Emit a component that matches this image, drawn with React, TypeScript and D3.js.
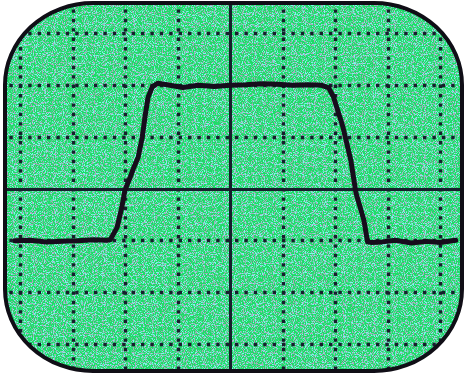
import React, { useMemo } from 'react';
import { line, scaleLinear, range, curveLinear } from 'd3';

// trace: time in divisions, level in divisions
const traceTime = [
	-0.1, 0.2, 0.5, 0.8, 1.1, 1.4, 1.65, 1.72, 1.85, 1.94, 2.0, 2.1, 2.15, 2.25, 2.33, 2.39, 2.44, 2.52, 2.62, 2.8,
	3.1, 3.4, 3.7, 4.0, 4.3, 4.6, 4.9, 5.2, 5.5, 5.75, 5.88, 5.97, 6.15, 6.3, 6.4, 6.55, 6.62, 6.68, 6.9, 7.15,
	7.45, 7.75, 8.0, 8.3,
];
const traceLevel = [
	-1.01, -1.0, -1.03, -1.02, -1.01, -0.99, -1.0, -0.99, -0.75, -0.36, -0.03, 0.22, 0.36, 0.6, 1.0, 1.45, 1.76, 1.96,
	2.03, 2.0, 1.95, 1.99, 1.97, 1.99, 2.0, 2.02, 2.01, 1.99, 2.0, 1.99, 1.94, 1.77, 1.19, 0.55, -0.09, -0.61, -1.03,
	-1.04, -1.03, -1.0, -1.05, -1.02, -1.04, -1.0,
];

const timeDivs = range(0, 9); // 0..8
const levelDivs = range(-3, 4); // -3..3

const W = 467;
const H = 376;

export default function App() {
	const x = scaleLinear().domain([0, 8]).range([20, 440]);
	const y = scaleLinear().domain([3, -3]).range([33, 344]);

	const tracePath = useMemo(() => {
		const pts = traceTime.map((t, i) => ({ t, v: traceLevel[i] }));
		return line<{ t: number; v: number }>()
			.x((d) => x(d.t))
			.y((d) => y(d.v))
			.curve(curveLinear)(pts);
	}, []);

	const screen = { x: 5, y: 3, w: 457, h: 368, rx: 88, ry: 82 };
	const gridColor = '#16202c';

	return (
		<svg
			width={W}
			height={H}
			viewBox={`0 0 ${W} ${H}`}
			style={{ position: 'absolute', left: 0, top: 0, display: 'block', background: '#fff' }}
		>
			<defs>
				<clipPath id="scr">
					<rect x={screen.x} y={screen.y} width={screen.w} height={screen.h} rx={screen.rx} ry={screen.ry} />
				</clipPath>
				<filter id="speckle" x="0" y="0" width="100%" height="100%">
					<feTurbulence type="fractalNoise" baseFrequency="0.9" numOctaves="1" seed="4" result="n" />
					<feColorMatrix
						in="n"
						type="matrix"
						values="0 0 0 0 0.42  0 0 0 0 0.38  0 0 0 0 0.52  9 0 0 0 -4.8"
						result="gray"
					/>
					<feColorMatrix
						in="n"
						type="matrix"
						values="0 0 0 0 0.2  0 0 0 0 0.95  0 0 0 0 0.85  0 9 0 0 -4.7"
						result="cyan"
					/>
					<feMerge>
						<feMergeNode in="cyan" />
						<feMergeNode in="gray" />
					</feMerge>
				</filter>
			</defs>

			<g clipPath="url(#scr)">
				<rect x={0} y={0} width={W} height={H} fill="#1edc66" />
				<rect x={0} y={0} width={W} height={H} filter="url(#speckle)" />

				{timeDivs.map((t) => (
					<line
						key={`v${t}`}
						x1={Math.round(x(t)) + 0.5}
						x2={Math.round(x(t)) + 0.5}
						y1={0}
						y2={H}
						stroke={gridColor}
						strokeWidth={t === 4 ? 3 : 3.4}
						strokeDasharray={t === 4 ? undefined : '3.4 6'}
					/>
				))}
				{levelDivs.map((v) => (
					<line
						key={`h${v}`}
						x1={0}
						x2={W}
						y1={Math.round(y(v)) + 0.5}
						y2={Math.round(y(v)) + 0.5}
						stroke={gridColor}
						strokeWidth={v === 0 ? 3 : 3.4}
						strokeDasharray={v === 0 ? undefined : '3.4 6'}
					/>
				))}

				<path
					d={tracePath || ''}
					fill="none"
					stroke="#170d1c"
					strokeWidth={5}
					strokeLinejoin="round"
					strokeLinecap="round"
				/>
			</g>

			<rect
				x={screen.x}
				y={screen.y}
				width={screen.w}
				height={screen.h}
				rx={screen.rx}
				ry={screen.ry}
				fill="none"
				stroke="#100e16"
				strokeWidth={4}
			/>
		</svg>
	);
}
